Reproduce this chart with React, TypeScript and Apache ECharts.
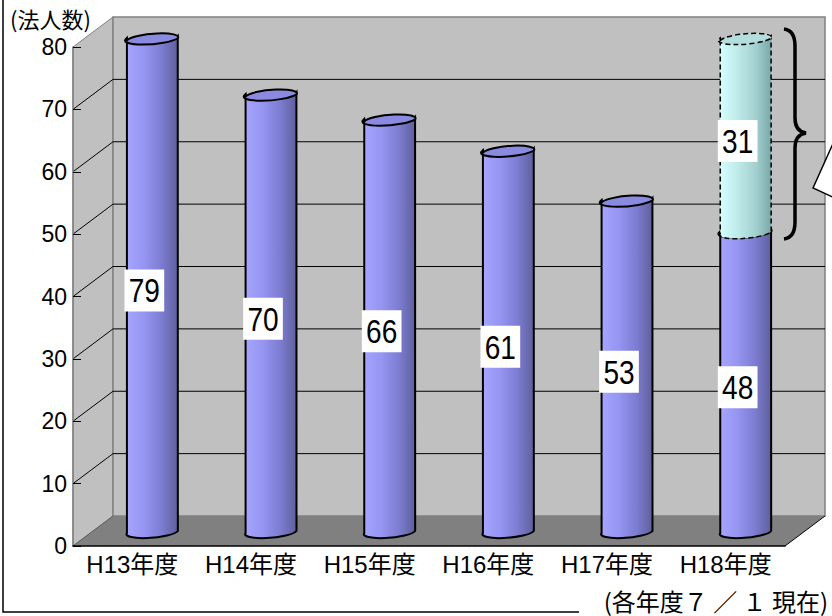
import React, { useEffect, useRef } from "react";
import * as echarts from "echarts";

// Fiscal years on the category axis
const categories = ["H13年度", "H14年度", "H15年度", "H16年度", "H17年度", "H18年度"];
// Number of corporations per year
const corpCounts = [79, 70, 66, 61, 53, 48];
// Additional corporations stacked on top (H18 only)
const addedCounts: (number | null)[] = [null, null, null, null, null, 31];
// Value axis range
const yMin = 0;
const yMax = 80;
const yStep = 10;

const unitLabel = "(法人数)";
const noteLabel = "(各年度７ ／ １ 現在)";

const FONT = "'Liberation Sans', 'Noto Sans CJK JP', sans-serif";
const CJK_FONT = "'Noto Sans CJK JP', 'Liberation Sans', sans-serif";

// 3D depth of the plot box (pixels)
const DX = 40;
const DY = -30;
const TILT = -5;

const BRACE_D =
  "M784 29 C792 30 795 36 795 46 L795 118 C795 127 799 132 806 133 C799 134 795 139 795 148 L795 222 C795 232 792 238 784 239";
echarts.graphic.registerShape("brace", echarts.graphic.extendPath(BRACE_D, {}));

function renderWalls(_params: any, api: any) {
  const n = categories.length;
  const band = api.size([1, 0])[0];
  const c0 = api.coord([0, yMin]);
  const xL = c0[0] - band / 2;
  const xR = xL + band * n;
  const y0 = c0[1];
  const yT = api.coord([0, yMax])[1];
  const children: any[] = [
    {
      type: "polygon",
      shape: { points: [[xL, y0], [xL, yT], [xL + DX, yT + DY], [xL + DX, y0 + DY]] },
      style: { fill: "#c0c0c0", stroke: "#808080", lineWidth: 1 },
    },
    {
      type: "rect",
      shape: { x: xL + DX, y: yT + DY, width: xR - xL, height: y0 - yT },
      style: { fill: "#c0c0c0", stroke: "#808080", lineWidth: 1.5 },
    },
    {
      type: "polygon",
      shape: { points: [[xL, y0], [xL + DX, y0 + DY], [xR + DX, y0 + DY], [xR, y0]] },
      style: { fill: "#808080" },
    },
    {
      type: "line",
      shape: { x1: xR, y1: y0, x2: xR + DX, y2: y0 + DY },
      style: { stroke: "#000", lineWidth: 1 },
    },
    {
      type: "line",
      shape: { x1: xL, y1: y0, x2: xL + DX, y2: y0 + DY },
      style: { stroke: "#606060", lineWidth: 1 },
    },
  ];
  for (let v = yMin + yStep; v < yMax; v += yStep) {
    const y = api.coord([0, v])[1];
    children.push({
      type: "line",
      shape: { x1: xL + DX, y1: y + DY, x2: xR + DX, y2: y + DY },
      style: { stroke: "#000", lineWidth: 1 },
    });
    children.push({
      type: "line",
      shape: { x1: xL, y1: y, x2: xL + DX, y2: y + DY },
      style: { stroke: "#000", lineWidth: 1 },
    });
  }
  return { type: "group", children };
}

type CylStyle = {
  stops: [number, string][];
  topFill: string;
  lineDash?: number[];
  lineWidth: number;
};

function makeCylinder(st: CylStyle) {
  return (_params: any, api: any) => {
    const idx = api.value(0);
    const base = api.value(1);
    const top = api.value(2);
    const shown = api.value(3);
    const band = api.size([1, 0])[0];
    const pB = api.coord([idx, base]);
    const pT = api.coord([idx, top]);
    const cx = pB[0] + DX / 2;
    const yb = pB[1] + DY / 2;
    const yt = pT[1] + DY / 2;
    const rx = band * 0.215;
    const ry = 5.5;
    const rad = (TILT * Math.PI) / 180;
    const ca = Math.cos(rad) * rx;
    const sa = Math.sin(rad) * rx;
    const body =
      `M${cx - ca} ${yt - sa} L${cx - ca} ${yb - sa} ` +
      `A${rx} ${ry} ${TILT} 0 0 ${cx + ca} ${yb + sa} ` +
      `L${cx + ca} ${yt + sa} ` +
      `A${rx} ${ry} ${TILT} 0 1 ${cx - ca} ${yt - sa} Z`;
    const cap =
      `M${cx - ca} ${yt - sa} A${rx} ${ry} ${TILT} 1 1 ${cx + ca} ${yt + sa} ` +
      `A${rx} ${ry} ${TILT} 1 1 ${cx - ca} ${yt - sa} Z`;
    const pM = api.coord([idx, (base + top) / 2]);
    return {
      type: "group",
      children: [
        {
          type: "path",
          shape: { pathData: body },
          style: {
            fill: new echarts.graphic.LinearGradient(
              0, 0, 1, 0,
              st.stops.map(([offset, color]) => ({ offset, color }))
            ),
            stroke: "#000",
            lineWidth: st.lineWidth,
            lineDash: st.lineDash,
          },
        },
        {
          type: "path",
          shape: { pathData: cap },
          style: { fill: st.topFill, stroke: "#000", lineWidth: st.lineWidth, lineDash: st.lineDash },
        },
        {
          type: "text",
          x: pM[0] + DX * 0.3,
          y: pM[1] + DY * 0.3,
          scaleX: 0.85,
          style: {
            text: String(shown),
            fontSize: 33,
            fontFamily: FONT,
            fill: "#000",
            align: "center",
            verticalAlign: "middle",
            backgroundColor: "#fff",
            padding: [4, 5, 4, 5],
            lineHeight: 34,
          },
        },
      ],
    };
  };
}

export default function App() {
  const ref = useRef<HTMLDivElement>(null);
  useEffect(() => {
    if (!ref.current) return;
    const chart = echarts.init(ref.current, null, { renderer: "svg" });
    const baseData = corpCounts.map((v, i) => [i, 0, v, v]);
    const addedData = addedCounts
      .map((v, i) => (v == null ? null : [i, corpCounts[i], corpCounts[i] + v, v]))
      .filter((d) => d !== null);
    chart.setOption({
      animation: false,
      backgroundColor: "#fff",
      grid: { left: 73, right: 47, top: 47, bottom: 70, containLabel: false },
      xAxis: {
        type: "category",
        data: categories,
        z: 5,
        axisLine: { lineStyle: { color: "#000", width: 1.5 } },
        axisTick: { inside: true, length: 9, lineStyle: { color: "#000" } },
        axisLabel: { color: "#000", fontSize: 24, fontFamily: FONT, margin: 6, interval: 0 },
        splitLine: { show: false },
      },
      yAxis: {
        type: "value",
        min: yMin,
        max: yMax,
        interval: yStep,
        z: 5,
        axisLine: { show: true, lineStyle: { color: "#808080", width: 1.5 } },
        axisTick: { show: true, inside: true, length: 8, lineStyle: { color: "#000" } },
        axisLabel: { color: "#000", fontSize: 23, fontFamily: FONT, margin: 6 },
        splitLine: { show: false },
      },
      series: [
        {
          type: "custom",
          name: "walls",
          z: 1,
          silent: true,
          renderItem: renderWalls,
          data: [[0, 0]],
          encode: { x: 0, y: 1 },
        },
        {
          type: "custom",
          name: "法人数",
          z: 2,
          renderItem: makeCylinder({
            stops: [
              [0, "#a6a6ff"],
              [0.35, "#9595f2"],
              [0.7, "#7b7bcf"],
              [1, "#5f5f9c"],
            ],
            topFill: "#8a8ae0",
            lineWidth: 2,
          }),
          data: baseData,
          encode: { x: 0, y: [1, 2] },
        },
        {
          type: "custom",
          name: "追加",
          z: 3,
          renderItem: makeCylinder({
            stops: [
              [0, "#d2ffff"],
              [0.35, "#bfeaea"],
              [0.7, "#a2cfcf"],
              [1, "#7aa8a8"],
            ],
            topFill: "#b4dede",
            lineDash: [5, 3],
            lineWidth: 1.5,
          }),
          data: addedData,
          encode: { x: 0, y: [1, 2] },
        },
      ],
      graphic: [
        {
          type: "rect",
          z: 0,
          shape: { x: 3, y: -10, width: 900, height: 622 },
          style: { fill: "none", stroke: "#000", lineWidth: 1.5 },
        },
        {
          type: "text",
          z: 10,
          x: 10,
          y: 18,
          style: {
            text: unitLabel,
            fontSize: 22,
            fontFamily: CJK_FONT,
            fill: "#000",
            align: "left",
            verticalAlign: "middle",
          },
        },
        {
          type: "rect",
          z: 9,
          shape: { x: 579, y: 586, width: 260, height: 40 },
          style: { fill: "#fff" },
        },
        {
          type: "text",
          z: 10,
          x: 828,
          y: 600,
          style: {
            text: noteLabel,
            fontSize: 24,
            fontFamily: CJK_FONT,
            fill: "#000",
            align: "right",
            verticalAlign: "middle",
          },
        },
        {
          type: "brace",
          z: 10,
          x: 0,
          y: 0,
          style: { fill: "none", stroke: "#000", lineWidth: 3.5 },
        },
        {
          type: "polygon",
          z: 10,
          shape: { points: [[813, 188], [840, 128], [840, 200.5]] },
          style: { fill: "#fff", stroke: "#000", lineWidth: 1.5 },
        },
      ],
    });
    return () => chart.dispose();
  }, []);
  return (
    <div
      ref={ref}
      style={{ position: "fixed", left: 0, top: 0, width: 832, height: 616, background: "#fff" }}
    />
  );
}
